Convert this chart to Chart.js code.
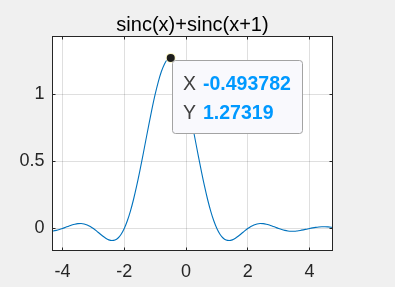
<!DOCTYPE html>
<html><head><meta charset="utf-8">
<script src="https://cdn.jsdelivr.net/npm/chart.js@4/dist/chart.umd.min.js"></script>
<style>html,body{margin:0;padding:0;background:#f0f0f0;}#wrap{width:395px;height:287px;position:relative}</style>
</head><body><div id="wrap"><canvas id="c" width="395" height="287"></canvas></div>
<script>
const chartTitle = 'sinc(x)+sinc(x+1)';
const xValues = [-4.4,-4.3,-4.2,-4.1,-4.0,-3.9,-3.8,-3.7,-3.6,-3.5,-3.4,-3.3,-3.2,-3.1,-3.0,-2.9,-2.8,-2.7,-2.6,-2.5,-2.4,-2.3,-2.2,-2.1,-2.0,-1.9,-1.8,-1.7,-1.6,-1.5,-1.4,-1.3,-1.2,-1.1,-1.0,-0.9,-0.8,-0.7,-0.6,-0.5,-0.4,-0.3,-0.2,-0.1,0.0,0.1,0.2,0.3,0.4,0.5,0.6,0.7,0.8,0.9,1.0,1.1,1.2,1.3,1.4,1.5,1.6,1.7,1.8,1.9,2.0,2.1,2.2,2.3,2.4,2.5,2.6,2.7,2.8,2.9,3.0,3.1,3.2,3.3,3.4,3.5,3.6,3.7,3.8,3.9,4.0,4.1,4.2,4.3,4.4,4.5,4.6,4.7,4.8];
const yValues = [-0.02024,-0.01815,-0.01392,-0.00774,0,0.00870,0.01758,0.02578,0.03234,0.03638,0.03710,0.03393,0.02658,0.01511,0,-0.01785,-0.03712,-0.05610,-0.07277,-0.08488,-0.09010,-0.08613,-0.07087,-0.04258,0,0.05752,0.12993,0.21641,0.31534,0.42441,0.54059,0.66031,0.77957,0.89420,1,1.09294,1.16937,1.22629,1.26138,1.27324,1.26138,1.22629,1.16937,1.09294,1,0.89420,0.77957,0.66031,0.54059,0.42441,0.31534,0.21641,0.12993,0.05752,0,-0.04258,-0.07087,-0.08613,-0.09010,-0.08488,-0.07277,-0.05610,-0.03712,-0.01785,0,0.01511,0.02658,0.03393,0.03710,0.03638,0.03234,0.02578,0.01758,0.00870,0,-0.00774,-0.01392,-0.01815,-0.02024,-0.02021,-0.01828,-0.01481,-0.01026,-0.00515,0,0.00470,0.00857,0.01130,0.01274,0.01286,0.01175,0.00961,0.00672];
const xTicks = [-4, -2, 0, 2, 4];
const yTicks = [0, 0.5, 1];
const xLimits = [-4.3239, 4.7449];
const yLimits = [-0.1642, 1.4328];
const tipX = -0.493782;
const tipY = 1.27319;

const FONT = '"Liberation Sans", Arial, sans-serif';
function alignPx(p){ return Math.round(p - 0.5) + 0.5; }

const background = {
  id: 'background',
  beforeDraw(chart){
    const {ctx, chartArea: a} = chart;
    ctx.save();
    ctx.fillStyle = '#f0f0f0'; ctx.fillRect(0, 0, chart.width, chart.height);
    ctx.fillStyle = '#ffffff'; ctx.fillRect(a.left, a.top, a.right - a.left, a.bottom - a.top);
    ctx.restore();
  }
};

const overlay = {
  id: 'overlay',
  afterDraw(chart){
    const {ctx, chartArea: a, scales: {x, y}} = chart;
    ctx.save();
    // box
    ctx.strokeStyle = '#262626'; ctx.lineWidth = 1;
    ctx.strokeRect(a.left, a.top, a.right - a.left, a.bottom - a.top);
    // inside ticks
    ctx.beginPath();
    xTicks.forEach(v => { const p = alignPx(x.getPixelForValue(v));
      ctx.moveTo(p, a.bottom); ctx.lineTo(p, a.bottom - 3);
      ctx.moveTo(p, a.top); ctx.lineTo(p, a.top + 3); });
    yTicks.forEach(v => { const p = alignPx(y.getPixelForValue(v));
      ctx.moveTo(a.left, p); ctx.lineTo(a.left + 3, p);
      ctx.moveTo(a.right, p); ctx.lineTo(a.right - 3, p); });
    ctx.stroke();
    // title
    ctx.fillStyle = '#000'; ctx.font = '20px ' + FONT;
    ctx.textAlign = 'center'; ctx.textBaseline = 'alphabetic';
    ctx.fillText(chartTitle, (a.left + a.right) / 2, 31);
    // datatip marker
    const mx = x.getPixelForValue(tipX), my = y.getPixelForValue(tipY);
    ctx.beginPath(); ctx.arc(mx, my, 5, 0, Math.PI * 2); ctx.fillStyle = '#fcf7c8'; ctx.fill();
    ctx.beginPath(); ctx.arc(mx, my, 4, 0, Math.PI * 2); ctx.fillStyle = '#1e1e1e'; ctx.fill();
    // datatip box
    const bx = 172.5, by = 60.5, bw = 130, bh = 73;
    ctx.beginPath(); ctx.roundRect(bx, by, bw, bh, 3);
    ctx.fillStyle = '#f9f9fd'; ctx.fill();
    ctx.strokeStyle = '#a3a3a3'; ctx.stroke();
    ctx.textAlign = 'left';
    ctx.font = '19.5px ' + FONT; ctx.fillStyle = '#404040';
    ctx.fillText('X', 183, 90); ctx.fillText('Y', 183, 119);
    ctx.font = 'bold 19.5px ' + FONT; ctx.fillStyle = '#0099ff';
    ctx.fillText(tipX.toString(), 203, 90);
    ctx.fillText(tipY.toString(), 203, 119);
    ctx.restore();
  }
};

new Chart(document.getElementById('c'), {
  type: 'line',
  data: { datasets: [{
    data: xValues.map((v, i) => ({x: v, y: yValues[i]})),
    borderColor: '#0072bd', borderWidth: 1.1, pointRadius: 0,
    cubicInterpolationMode: 'monotone', fill: false
  }]},
  options: {
    responsive: false, animation: false, devicePixelRatio: 1,
    layout: { padding: { left: 0, right: 62.5, top: 36.5, bottom: 0 } },
    plugins: { legend: { display: false }, tooltip: { enabled: false }, title: { display: false } },
    scales: {
      x: {
        type: 'linear', min: xLimits[0], max: xLimits[1],
        afterBuildTicks: s => { s.ticks = xTicks.map(v => ({value: v})); },
        afterFit: s => { s.height = 36.5; },
        grid: { color: 'rgba(38,38,38,0.15)', drawTicks: false, lineWidth: 1 },
        border: { display: false },
        ticks: { color: '#262626', font: { family: FONT, size: 18 }, padding: 11, maxRotation: 0, callback: v => String(v) }
      },
      y: {
        type: 'linear', min: yLimits[0], max: yLimits[1],
        afterBuildTicks: s => { s.ticks = yTicks.map(v => ({value: v})); },
        afterFit: s => { s.width = 52.5; },
        grid: { color: 'rgba(38,38,38,0.15)', drawTicks: false, lineWidth: 1 },
        border: { display: false },
        ticks: { color: '#262626', font: { family: FONT, size: 18 }, padding: 8, callback: v => String(v) }
      }
    }
  },
  plugins: [background, overlay]
});
</script></body></html>
